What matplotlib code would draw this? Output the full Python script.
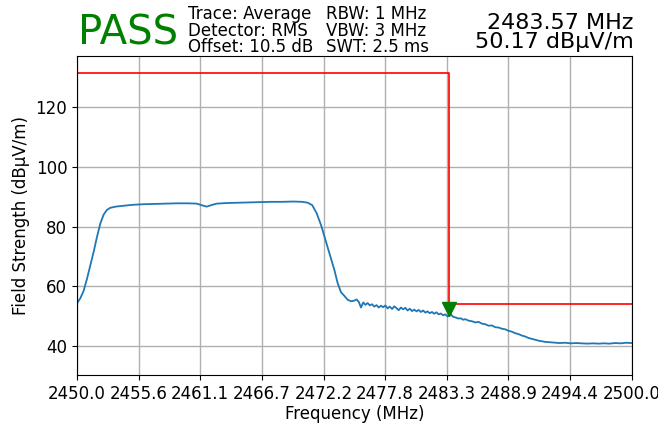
import matplotlib
matplotlib.use('Agg')
import matplotlib.pyplot as plt
import matplotlib.transforms as mtransforms
import numpy as np

freq_mhz = [
    2450.0, 2450.3, 2450.6, 2450.9, 2451.2, 2451.5, 2451.8, 2452.1, 2452.4, 2452.7,
    2453.0, 2453.5, 2454.0, 2455.0, 2456.0, 2457.0, 2458.0, 2459.0, 2460.0, 2460.8,
    2461.3, 2461.7, 2462.1, 2462.6, 2463.5, 2464.5, 2465.5, 2466.5, 2467.5, 2468.5,
    2469.5, 2470.3, 2470.8, 2471.2, 2471.6, 2472.0, 2472.4, 2472.8, 2473.2, 2473.5,
    2473.8, 2474.1, 2474.4, 2474.7, 2475.0, 2475.2, 2475.4, 2475.6, 2475.8, 2476.0,
    2476.2, 2476.4, 2476.6, 2476.8, 2477.0, 2477.2, 2477.4, 2477.6, 2477.8, 2478.0,
    2478.2, 2478.4, 2478.6, 2478.8, 2479.0, 2479.2, 2479.4, 2479.6, 2479.8, 2480.0,
    2480.2, 2480.4, 2480.6, 2480.8, 2481.0, 2481.2, 2481.4, 2481.6, 2481.8, 2482.0,
    2482.2, 2482.4, 2482.6, 2482.8, 2483.0, 2483.2, 2483.4, 2483.57, 2483.7, 2483.9,
    2484.1, 2484.4, 2484.6, 2484.8, 2485.0, 2485.3, 2485.6, 2485.9, 2486.2, 2486.5,
    2486.8, 2487.1, 2487.4, 2487.7, 2488.0, 2488.3, 2488.6, 2488.9, 2489.2, 2489.5,
    2489.8, 2490.1, 2490.4, 2490.7, 2491.0, 2491.3, 2491.6, 2491.9, 2492.2, 2492.5,
    2492.8, 2493.1, 2493.5, 2494.0, 2494.5, 2495.0, 2495.5, 2496.0, 2496.5, 2497.0,
    2497.5, 2498.0, 2498.5, 2499.0, 2499.5, 2500.0,
]
level_dbuv = [
    54.3, 56.0, 58.5, 62.5, 67.0, 71.5, 76.5, 81.0, 84.0, 85.6,
    86.3, 86.7, 86.9, 87.3, 87.5, 87.6, 87.7, 87.8, 87.8, 87.7,
    87.1, 86.7, 87.2, 87.7, 87.9, 88.0, 88.1, 88.2, 88.3, 88.3,
    88.4, 88.3, 88.0, 87.2, 84.5, 80.5, 75.5, 70.5, 65.5, 61.0,
    58.0, 56.8, 55.5, 55.0, 55.2, 55.6, 54.8, 52.9, 54.6, 53.8,
    54.4, 53.6, 54.0, 53.2, 53.7, 52.9, 53.5, 53.0, 53.6, 52.6,
    53.2, 52.4, 53.3, 52.7, 52.0, 52.9, 52.3, 52.8, 51.9, 52.5,
    51.7, 52.2, 51.6, 52.1, 51.4, 51.9, 51.2, 51.6, 51.0, 51.4,
    50.8, 51.3, 50.6, 50.9, 50.3, 50.6, 49.9, 50.17, 50.6, 49.8,
    49.6, 49.2, 49.3, 48.8, 49.0, 48.5, 48.3, 47.9, 48.1, 47.5,
    47.3, 46.8, 46.9, 46.3, 46.2, 45.8, 45.6, 45.1, 44.8, 44.3,
    44.0, 43.5, 43.2, 42.7, 42.4, 42.1, 41.8, 41.6, 41.4, 41.3,
    41.2, 41.1, 41.0, 41.1, 40.9, 41.0, 40.9, 40.8, 40.9, 40.8,
    40.9, 40.8, 41.0, 40.9, 41.1, 41.0,
]

# limit line
limit_freq = [2450.0, 2483.5, 2483.5, 2500.0]
limit_level = [131.3, 131.3, 54.0, 54.0]

# marker readout
marker_freq = 2483.57
marker_level = 50.17

fig = plt.figure(figsize=(6.58, 4.23), dpi=100)
ax = fig.add_axes([0.117, 0.1135, 0.843, 0.7545])

ax.plot(freq_mhz, level_dbuv, color='#1f77b4', linewidth=1.3)
ax.plot(limit_freq, limit_level, color='red', linewidth=1.2)

# marker sits slightly above the trace point
shift = mtransforms.offset_copy(ax.transData, fig=fig, x=0, y=5, units='points')
ax.plot([marker_freq], [marker_level], marker='v', color='green',
        markersize=10, linestyle='none', transform=shift)

ax.set_xlim(2450, 2500)
ax.set_ylim(30.3, 137.2)
ax.set_xticks(np.linspace(2450, 2500, 10))
ax.set_xticklabels(['%.1f' % f for f in np.linspace(2450, 2500, 10)])
ax.set_yticks([40, 60, 80, 100, 120])
ax.tick_params(labelsize=12)
ax.grid(True, color='#b0b0b0', linewidth=1.0)
ax.set_xlabel('Frequency (MHz)', fontsize=12, labelpad=2)
ax.set_ylabel('Field Strength (dBµV/m)', fontsize=12)

# header
fig.text(0.119, 0.895, 'PASS', color='green', fontsize=29, va='baseline')
fig.text(0.285, 0.876, 'Trace: Average\nDetector: RMS\nOffset: 10.5 dB',
         fontsize=12, va='baseline', linespacing=0.91)
fig.text(0.496, 0.876, 'RBW: 1 MHz\nVBW: 3 MHz\nSWT: 2.5 ms',
         fontsize=12, va='baseline', linespacing=0.91)
fig.text(0.9635, 0.886, '%.2f MHz\n%.2f dBµV/m' % (marker_freq, marker_level),
         fontsize=16, va='baseline', ha='right', linespacing=0.97)

plt.savefig('out.png', dpi=100)
plt.close()
